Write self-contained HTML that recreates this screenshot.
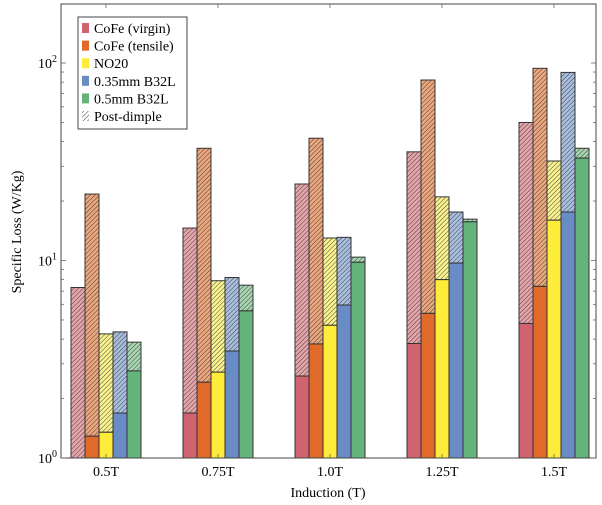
<!DOCTYPE html>
<html><head><meta charset="utf-8"><style>
body{margin:0;background:#fff;}
svg{display:block;font-family:"Liberation Serif",serif;}
</style></head><body>
<svg id="chart" width="602" height="505" viewBox="0 0 602 505" xmlns="http://www.w3.org/2000/svg">
<defs>
<pattern id="hatch" patternUnits="userSpaceOnUse" width="3.2" height="3.2" patternTransform="rotate(45)">
<line x1="0" y1="0" x2="0" y2="3.2" stroke="#333" stroke-width="0.9"/>
</pattern>
</defs>
<g id="bars"></g>
<g id="axes"></g>
<g id="legend"></g>
</svg>
<script>
const categories = ["0.5T","0.75T","1.0T","1.25T","1.5T"];
const seriesNames = ["CoFe (virgin)","CoFe (tensile)","NO20","0.35mm B32L","0.5mm B32L"];
const preVirgin   = [1.0, 1.69, 2.6, 3.8, 4.8];
const postVirgin  = [7.3, 14.6, 24.4, 35.5, 50];
const preTensile  = [1.29, 2.42, 3.78, 5.4, 7.4];
const postTensile = [21.7, 37, 41.6, 82, 94];
const preNO20     = [1.35, 2.72, 4.7, 8.0, 16];
const postNO20    = [4.25, 7.9, 13, 21, 31.9];
const pre035      = [1.69, 3.48, 5.95, 9.7, 17.6];
const post035     = [4.35, 8.2, 13.1, 17.6, 89.6];
const pre05       = [2.76, 5.56, 9.8, 15.7, 33];
const post05      = [3.86, 7.5, 10.4, 16.2, 37];
const yTickLabels = ["0","1","2"];

const colors = ["#d0636f","#e06a2a","#fdec3a","#6a8cc6","#63b37b"];
const light  = ["#e6a5ab","#eda77d","#fbf38f","#a9bfe0","#a7d6b2"];
const pre = [preVirgin, preTensile, preNO20, pre035, pre05];
const post = [postVirgin, postTensile, postNO20, post035, post05];

const L=61, R=596, T=4, B=458, DEC=197.5;
const y = v => B - Math.log10(v)*DEC;
const xCenter = i => 106 + i*112;
const BW = 14;
const NS="http://www.w3.org/2000/svg";
function mk(tag, attrs, parent){const e=document.createElementNS(NS,tag);for(const k in attrs)e.setAttribute(k,attrs[k]);parent.appendChild(e);return e;}

const bars=document.getElementById('bars');
categories.forEach((c,i)=>{
  for(let s=0;s<5;s++){
    const x = xCenter(i) - 2.5*BW + s*BW;
    const yPre=y(pre[s][i]), yPost=y(post[s][i]);
    const hb = mk('rect',{x:x,y:yPost,width:BW,height:yPre-yPost,fill:light[s]},bars);
    
    
    const hp = mk('rect',{x:x,y:yPost,width:BW,height:yPre-yPost,fill:'url(#hatch)',stroke:'#333','stroke-width':1},bars);
    
    
    const sb = mk('rect',{x:x,y:yPre,width:BW,height:B-yPre,fill:colors[s],stroke:'#333','stroke-width':1},bars);
    
    
  }
});

const ax=document.getElementById('axes');
const fr=mk('rect',{x:L,y:T,width:R-L,height:B-T,fill:'none',stroke:'#444','stroke-width':1},ax);


for(let d=0;d<3;d++){
  for(let m=1;m<10;m++){
    const v=Math.pow(10,d)*m; const yy=y(v); if(yy<T) break;
    const len = m===1?5:3;
    mk('line',{x1:L,y1:yy,x2:L+len,y2:yy,stroke:'#666','stroke-width':0.8},ax);
    mk('line',{x1:R,y1:yy,x2:R-len,y2:yy,stroke:'#666','stroke-width':0.8},ax);
  }
}
yTickLabels.forEach((p,k)=>{
  const t=mk('text',{x:L-4,y:y(Math.pow(10,k))+5,'text-anchor':'end','font-size':14},ax);
  
  
  t.textContent='10';
  const sp=mk('tspan',{dy:-6,'font-size':10},t); sp.textContent=p;
});
categories.forEach((c,i)=>{
  mk('line',{x1:xCenter(i),y1:B,x2:xCenter(i),y2:B-4,stroke:'#666','stroke-width':0.8},ax);
  mk('line',{x1:xCenter(i),y1:T,x2:xCenter(i),y2:T+4,stroke:'#666','stroke-width':0.8},ax);
  const t=mk('text',{x:xCenter(i),y:476,'text-anchor':'middle','font-size':14},ax);
  
  
  t.textContent=c;
});
const xt=mk('text',{x:328,y:497,'text-anchor':'middle','font-size':14},ax);


xt.textContent='Induction (T)';
const yt=mk('text',{x:0,y:0,'text-anchor':'middle','font-size':14,transform:'translate(21,232) rotate(-90)'},ax);


yt.textContent='Specific Loss (W/Kg)';

const lg=document.getElementById('legend');
mk('rect',{x:78,y:17,width:109,height:112,fill:'#fff',stroke:'#444','stroke-width':1},lg);
const labels=seriesNames.concat(['Post-dimple']);
labels.forEach((n,k)=>{
  const yy=23+k*17.6;
  if(k<5){
    mk('rect',{x:82,y:yy,width:7,height:10,fill:colors[k]},lg);
  } else {
    mk('rect',{x:82,y:yy,width:7,height:10,fill:'url(#hatch)'},lg);
  }
  const t=mk('text',{x:94,y:yy+10,'font-size':14},lg);
  
  
  t.textContent=n;
});
</script>
</body></html>
